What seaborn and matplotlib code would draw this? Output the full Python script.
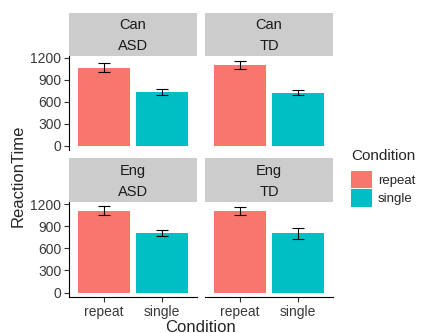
import matplotlib
matplotlib.use("Agg")

import matplotlib.pyplot as plt
import seaborn as sns
from matplotlib.patches import Patch

# facet levels (row: language, col: group)
languages = ["Can", "Can", "Eng", "Eng"]
groups = ["ASD", "TD", "ASD", "TD"]
conditions = ["repeat", "single"]

# mean reaction time and standard error per panel
rt_repeat = [1070, 1104, 1108, 1103]
rt_single = [733, 729, 806, 807]
se_repeat = [59, 58, 63, 56]
se_single = [38, 32, 36, 74]

yticks = [0, 300, 600, 900, 1200]
colors = ["#F8766D", "#00BFC4"]

W, H = 421, 333

sns.set_style("white")
plt.rcParams["font.family"] = ["Liberation Sans", "DejaVu Sans"]

fig = plt.figure(figsize=(W / 100, H / 100), dpi=100)


def fx(px):
    return px / W


def fy(py):
    return 1 - py / H


col_x = [69, 205]
panel_w = 128
rows = [  # (strip top, strip bottom, panel top, panel bottom)
    (13, 55.5, 55.5, 150.3),
    (158, 201.5, 201.5, 297),
]

for i in range(4):
    r, c = divmod(i, 2)
    st, sb, pt, pb = rows[r]
    x0 = col_x[c]

    ax = fig.add_axes([fx(x0), fy(pb), fx(panel_w), (pb - pt) / H])
    sns.barplot(x=conditions, y=[rt_repeat[i], rt_single[i]], hue=conditions,
                palette=colors, width=0.9, errorbar=None, legend=False,
                ax=ax, linewidth=0, saturation=1)
    ax.errorbar(x=[0, 1], y=[rt_repeat[i], rt_single[i]],
                yerr=[se_repeat[i], se_single[i]], fmt="none",
                ecolor="black", elinewidth=0.8, capsize=4, capthick=0.8)
    ax.set_xlim(-0.6, 1.6)
    ax.set_ylim(-59, 1234)
    ax.set_xlabel("")
    ax.set_ylabel("")
    for s in ["top", "right"]:
        ax.spines[s].set_visible(False)
    ax.spines["left"].set_color("black")
    ax.spines["bottom"].set_color("black")
    ax.spines["left"].set_linewidth(0.8)
    ax.spines["bottom"].set_linewidth(0.8)
    ax.tick_params(axis="both", length=3.5, width=0.8, color="#333333",
                   labelsize=10, labelcolor="#3a3a3a", pad=2)
    ax.set_yticks(yticks)
    if c == 1:
        ax.spines["left"].set_visible(False)
        ax.tick_params(axis="y", left=False, labelleft=False)
    else:
        ax.tick_params(axis="y", left=True)
    if r == 0:
        ax.spines["bottom"].set_visible(False)
        ax.tick_params(axis="x", bottom=False, labelbottom=False)
    else:
        ax.tick_params(axis="x", bottom=True)

    sax = fig.add_axes([fx(x0), fy(sb), fx(panel_w), (sb - st) / H])
    sax.set_facecolor("#cccccc")
    sax.set_xticks([])
    sax.set_yticks([])
    for s in sax.spines.values():
        s.set_visible(False)
    sax.text(0.5, 0.71, languages[i], ha="center", va="center",
             fontsize=10.5, color="#1a1a1a", transform=sax.transAxes)
    sax.text(0.5, 0.22, groups[i], ha="center", va="center",
             fontsize=10.5, color="#1a1a1a", transform=sax.transAxes)

fig.text(fx(18), fy(176), "ReactionTime", rotation=90, ha="center",
         va="center", fontsize=12)
fig.text(fx(201), fy(320), "Condition", ha="center", va="top", fontsize=12)

# legend: title placed as text, keys via fig.legend
fig.text(fx(351), fy(160), "Condition", ha="left", va="baseline", fontsize=11)
handles = [Patch(facecolor=col, edgecolor="none") for col in colors]
leg = fig.legend(handles, conditions, loc="upper left",
                 bbox_to_anchor=(fx(351), fy(171)), frameon=False,
                 fontsize=9.5, handlelength=1.6, handleheight=1.64,
                 labelspacing=0.08, handletextpad=0.45,
                 borderpad=0, borderaxespad=0)

fig.savefig("out.png", dpi=100)
